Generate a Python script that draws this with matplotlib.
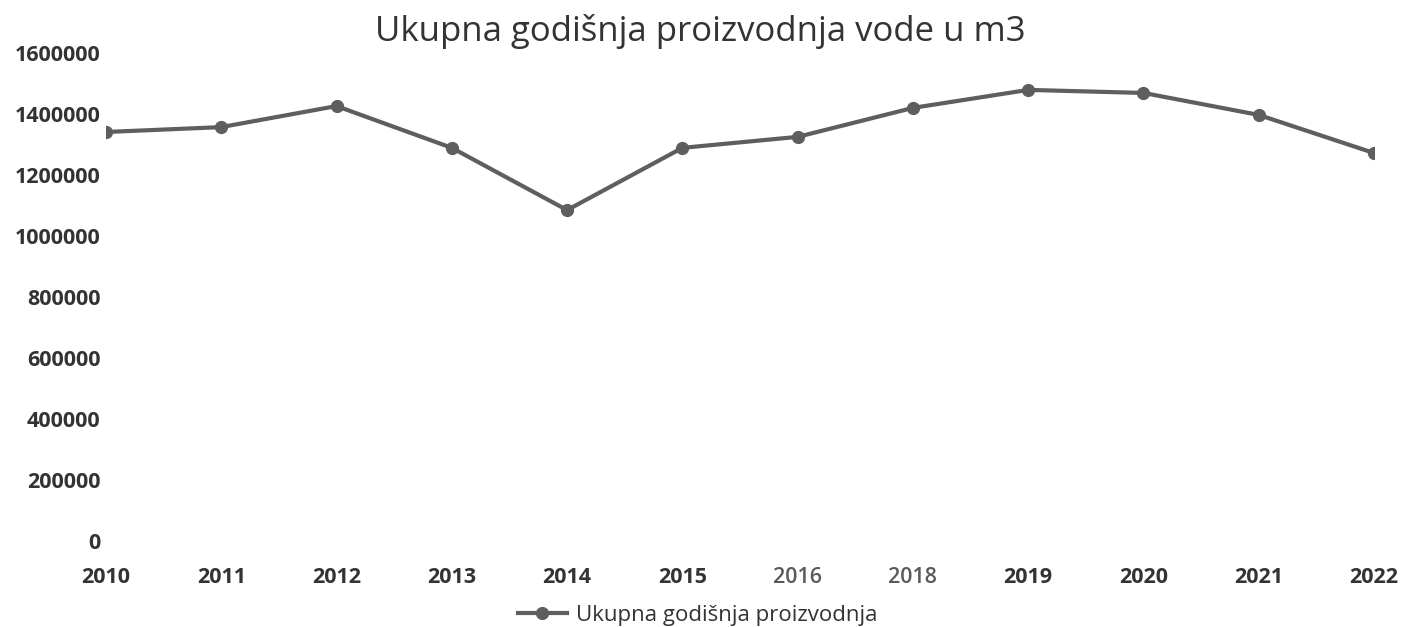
import matplotlib.pyplot as plt

plt.rcParams['font.family'] = ['Open Sans', 'DejaVu Sans']

godine = ['2010', '2011', '2012', '2013', '2014', '2015', '2016',
          '2018', '2019', '2020', '2021', '2022']
proizvodnja = [1341000, 1357000, 1426000, 1289000, 1085000, 1289000,
               1325000, 1420000, 1479000, 1469000, 1397000, 1272000]
y_ticks = [0, 200000, 400000, 600000, 800000, 1000000, 1200000, 1400000, 1600000]

fig = plt.figure(figsize=(14.09, 6.27), dpi=100)
ax = fig.add_axes([0.0752, 0.137, 0.9, 0.7785])

x = list(range(len(godine)))
ax.plot(x, proizvodnja, color='#5e5e5e', linewidth=3, marker='o',
        markersize=8.5, markerfacecolor='#5e5e5e', markeredgecolor='#5e5e5e',
        label='Ukupna godišnja proizvodnja')

ax.set_xlim(0, len(godine) - 1)
ax.set_ylim(0, 1600000)
ax.set_yticks(y_ticks)
ax.set_yticklabels([str(v) for v in y_ticks], fontsize=15.5, fontweight='bold', color='#333333')
ax.set_xticks(x)
ax.set_xticklabels(godine, fontsize=15.5, fontweight='bold', color='#333333')
for lbl in ax.get_xticklabels():
    if lbl.get_text() in ('2016', '2018'):
        lbl.set_color('#5a5a5a')
        lbl.set_fontweight('semibold')

ax.tick_params(axis='both', length=0)
ax.tick_params(axis='y', pad=4)
ax.tick_params(axis='x', pad=19)
for s in ax.spines.values():
    s.set_visible(False)

fig.text(0.497, 0.95, 'Ukupna godišnja proizvodnja vode u m3', ha='center', va='center',
         fontsize=25, color='#333333')

fig.legend(loc='center', bbox_to_anchor=(0.495, 0.019), frameon=False, fontsize=16,
           handlelength=2.2, handletextpad=0.4, labelcolor='#333333')

fig.savefig('out.png', dpi=100, facecolor='white')
